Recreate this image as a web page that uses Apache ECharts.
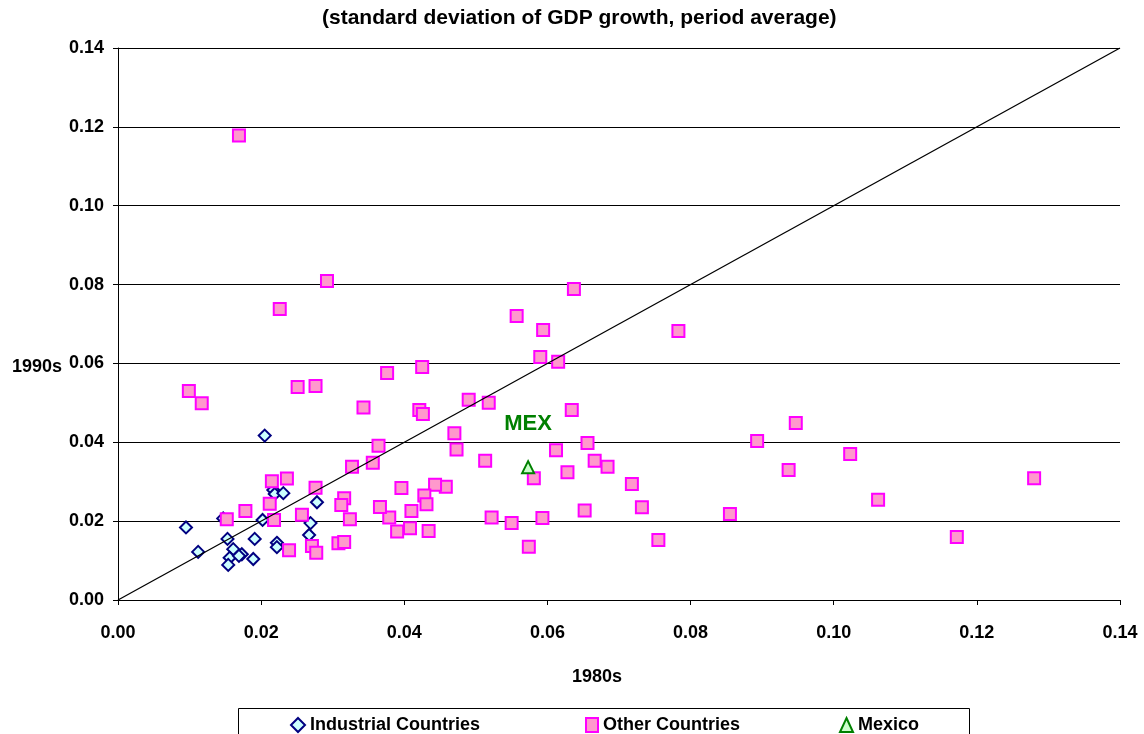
<!DOCTYPE html>
<html>
<head>
<meta charset="utf-8">
<script src="https://cdn.jsdelivr.net/npm/echarts@6/dist/echarts.min.js"></script>
<style>
html,body{margin:0;padding:0;background:#fff;}
#chart{width:1144px;height:734px;}
</style>
</head>
<body>
<div id="chart"></div>
<script>
const titleText = '(standard deviation of GDP growth, period average)';
const xAxisTitle = '1980s';
const yAxisTitle = '1990s';
const seriesNames = ['Industrial Countries', 'Other Countries', 'Mexico'];
const mexLabel = 'MEX';

// [1980s, 1990s]
const industrial = [
  [0.0095,0.0184],[0.0112,0.0122],[0.0153,0.0155],[0.0147,0.0207],[0.0161,0.0129],
  [0.0156,0.0107],[0.0154,0.0089],[0.0173,0.0116],[0.0189,0.0104],[0.0191,0.0155],
  [0.0202,0.0203],[0.0217,0.0279],[0.0219,0.0269],[0.0231,0.0271],[0.0222,0.0145],
  [0.0222,0.0134],[0.0278,0.0248],[0.0269,0.0195],[0.0267,0.0165],[0.0169,0.0112],
  [0.0205,0.0417]
];

const others = [
  [0.0169,0.1178],[0.0292,0.0809],[0.0226,0.0738],[0.0099,0.0530],[0.0117,0.0499],
  [0.0251,0.0540],[0.0276,0.0543],[0.0376,0.0576],[0.0425,0.0591],[0.0343,0.0488],
  [0.0421,0.0482],[0.0426,0.0472],[0.0490,0.0508],[0.0518,0.0500],[0.0557,0.0720],
  [0.0594,0.0685],[0.0637,0.0789],[0.0590,0.0616],[0.0615,0.0604],[0.0634,0.0482],
  [0.0783,0.0682],[0.0364,0.0391],[0.0470,0.0423],[0.0473,0.0382],[0.0513,0.0353],
  [0.0612,0.0380],[0.0656,0.0398],[0.0666,0.0353],[0.0684,0.0338],[0.0628,0.0324],
  [0.0581,0.0309],[0.0718,0.0294],[0.0732,0.0235],[0.0755,0.0152],[0.0893,0.0403],
  [0.0947,0.0449],[0.0937,0.0330],[0.1023,0.0370],[0.1062,0.0254],[0.0855,0.0218],
  [0.1172,0.0160],[0.1280,0.0309],[0.0652,0.0227],[0.0593,0.0208],[0.0574,0.0135],
  [0.0550,0.0195],[0.0522,0.0209],[0.0458,0.0287],[0.0443,0.0292],[0.0428,0.0265],
  [0.0431,0.0243],[0.0396,0.0284],[0.0410,0.0226],[0.0408,0.0182],[0.0390,0.0174],
  [0.0379,0.0209],[0.0366,0.0236],[0.0356,0.0348],[0.0327,0.0338],[0.0316,0.0258],
  [0.0312,0.0241],[0.0324,0.0205],[0.0308,0.0144],[0.0316,0.0147],[0.0434,0.0175],
  [0.0276,0.0285],[0.0271,0.0137],[0.0277,0.0120],[0.0239,0.0126],[0.0257,0.0216],
  [0.0236,0.0308],[0.0215,0.0301],[0.0212,0.0244],[0.0218,0.0203],[0.0178,0.0226],
  [0.0152,0.0205]
];

const mexico = [[0.0573,0.0337]];
const diagonal = [[0,0],[0.14,0.14]];

const axisMin = 0, axisMax = 0.14, axisStep = 0.02;

const chart = echarts.init(document.getElementById('chart'), null, {renderer:'canvas'});
const FONT = 'Liberation Sans, Arial, sans-serif';

function legendAt(left, name, icon, w, h) {
  return {
    left: left, top: 716, orient: 'horizontal', padding: 0,
    data: [{name: name, icon: icon}],
    itemWidth: w, itemHeight: h, itemGap: 4,
    textStyle: {fontFamily: FONT, fontWeight: 'bold', fontSize: 18, color: '#000'},
    selectedMode: false
  };
}

chart.setOption({
  backgroundColor: '#fff',
  animation: false,
  grid: {left: 118, right: 24, top: 48, bottom: 134, containLabel: false},
  xAxis: {
    type: 'value', min: axisMin, max: axisMax, interval: axisStep,
    axisLine: {show: true, onZero: false, lineStyle: {color: '#000', width: 1}},
    axisTick: {show: true, inside: false, length: 5, lineStyle: {color: '#000'}},
    axisLabel: {fontFamily: FONT, fontWeight: 'bold', fontSize: 18, color: '#000', margin: 24,
      formatter: v => v.toFixed(2)},
    splitLine: {show: false}
  },
  yAxis: {
    type: 'value', min: axisMin, max: axisMax, interval: axisStep,
    axisLine: {show: true, onZero: false, lineStyle: {color: '#000', width: 1}},
    axisTick: {show: true, inside: false, length: 5, lineStyle: {color: '#000'}},
    axisLabel: {fontFamily: FONT, fontWeight: 'bold', fontSize: 18, color: '#000', margin: 14,
      formatter: v => v.toFixed(2)},
    splitLine: {show: true, lineStyle: {color: '#000', width: 1}}
  },
  legend: [
    legendAt(290, seriesNames[0], 'diamond', 14, 14),
    legendAt(585, seriesNames[1], 'rect', 12, 14),
    legendAt(839, seriesNames[2], 'triangle', 13, 14)
  ],
  graphic: [
    {type: 'text', left: 322, top: 8,
      style: {text: titleText, font: 'bold 21px ' + FONT, fill: '#000'}},
    {type: 'text', left: 12, top: 358, style: {text: yAxisTitle, font: 'bold 18px ' + FONT, fill: '#000'}},
    {type: 'text', left: 572, top: 668, style: {text: xAxisTitle, font: 'bold 18px ' + FONT, fill: '#000'}},
    {type: 'rect', shape: {x: 238.5, y: 708.5, width: 731, height: 40},
      style: {fill: 'none', stroke: '#000', lineWidth: 1}, z: -1}
  ],
  series: [
    {
      name: seriesNames[0], type: 'scatter', data: industrial, symbol: 'diamond', symbolSize: 12,
      itemStyle: {color: '#ccffff', borderColor: '#000080', borderWidth: 2, opacity: 1}, z: 3
    },
    {
      name: seriesNames[1], type: 'scatter', data: others, symbol: 'rect', symbolSize: 12,
      itemStyle: {color: '#ff99cc', borderColor: '#ff00ff', borderWidth: 2, opacity: 1}, z: 4
    },
    {
      name: seriesNames[2], type: 'scatter', data: mexico, symbol: 'triangle', symbolSize: 12,
      itemStyle: {color: '#ccffcc', borderColor: '#008000', borderWidth: 2, opacity: 1}, z: 5,
      label: {show: true, formatter: mexLabel, position: 'top', distance: 25,
        fontFamily: FONT, fontWeight: 'bold', fontSize: 22, color: '#008000'}
    },
    {
      name: 'diag', type: 'line', data: diagonal, showSymbol: false, symbol: 'none', silent: true,
      lineStyle: {color: '#000', width: 1.3}, z: 6
    }
  ]
});
</script>
</body>
</html>
